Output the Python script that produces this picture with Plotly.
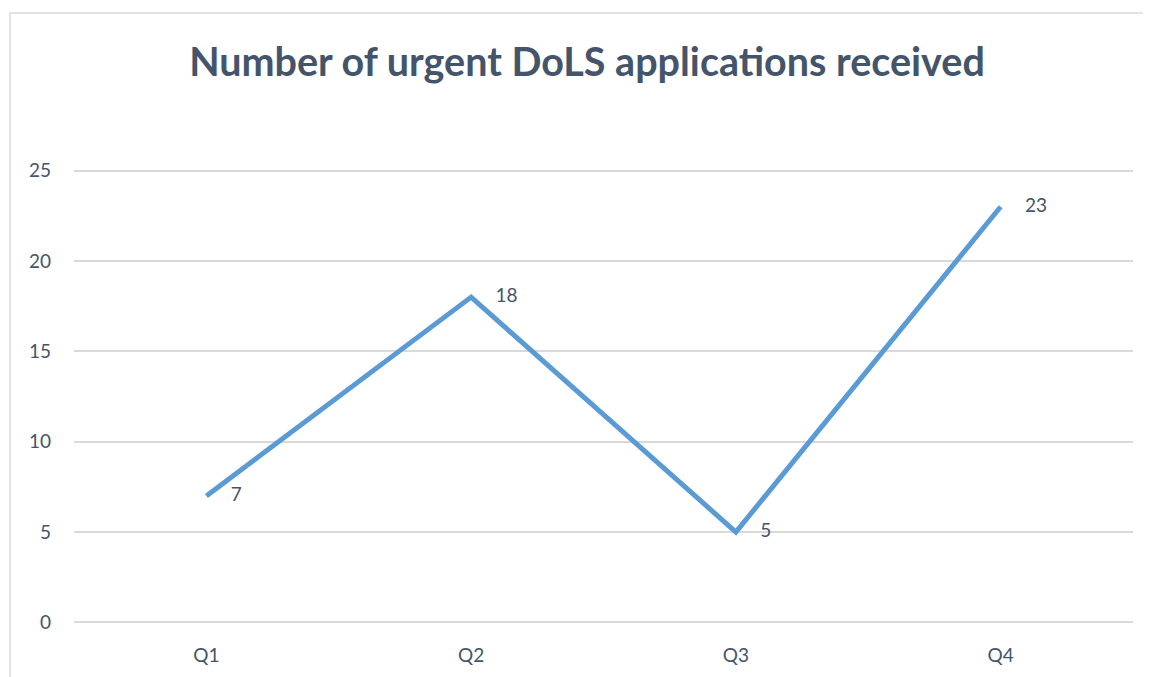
import plotly.graph_objects as go

quarters = ["Q1", "Q2", "Q3", "Q4"]
urgent_apps = [7, 18, 5, 23]
y_ticks = [0, 5, 10, 15, 20, 25]

TEXT = "#44546A"
GRID = "#D9D9D9"

# page body has an 8px margin, so the figure is a little smaller than the window
W, H = 1143, 669
L, T, R, B = 66, 159, 18, 51
plot_w = W - L - R
plot_h = H - T - B

fig = go.Figure()
fig.add_trace(go.Scatter(
    x=quarters, y=urgent_apps,
    mode="lines+text",
    line=dict(color="#5B9BD5", width=5),
    text=["     " + str(v) for v in urgent_apps],
    textposition="middle right",
    textfont=dict(family="Lato", size=19, color=TEXT),
    hoverinfo="x+y",
    showlegend=False,
))

fig.update_layout(
    width=W, height=H,
    margin=dict(l=L, r=R, t=T, b=B),
    paper_bgcolor="white", plot_bgcolor="white",
    font=dict(family="Lato", color=TEXT, size=19),
    title=dict(text="<b>Number of urgent DoLS applications received</b>",
               xref="container", x=(587 - 8) / W, xanchor="center",
               y=1 - 54 / H, yanchor="middle", automargin=False,
               font=dict(family="Lato", size=39.5, color=TEXT)),
    xaxis=dict(range=[-0.5, 3.5], showgrid=False, zeroline=False,
               showline=False, ticks="", ticklabelstandoff=16,
               automargin=False, tickfont=dict(size=19, color=TEXT)),
    yaxis=dict(range=[-0.2, 25.2], tickvals=y_ticks, showgrid=True,
               gridcolor=GRID, gridwidth=1.5, zeroline=True,
               zerolinecolor=GRID, zerolinewidth=1.5, showline=False,
               ticks="", ticklabelstandoff=22, automargin=False,
               tickfont=dict(size=19, color=TEXT)),
    shapes=[
        # chart border (only left and top edges fall inside the view)
        dict(type="rect", xref="paper", yref="paper",
             x0=(2 - L) / plot_w, x1=1.2, y0=-0.3, y1=(plot_h + T - 5) / plot_h,
             line=dict(color=GRID, width=1.5), layer="below"),
    ],
)

fig.write_html("out.html")
